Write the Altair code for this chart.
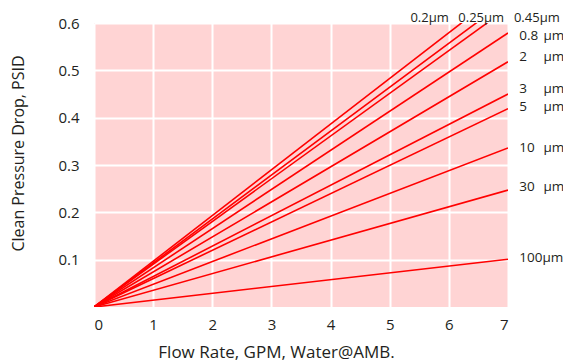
import altair as alt
import pandas as pd

# series and pressure drop (PSID) reached at 7 GPM (lines start at the origin)
series = ["0.2µm", "0.25µm", "0.45µm", "0.8µm", "2µm", "3µm", "5µm", "10µm", "30µm", "100µm"]
flow_start = [0, 0, 0, 0, 0, 0, 0, 0, 0, 0]
flow_end = [7, 7, 7, 7, 7, 7, 7, 7, 7, 7]
dp_end = [0.676, 0.650, 0.632, 0.579, 0.518, 0.450, 0.419, 0.336, 0.247, 0.101]

# top labels (outside the plot, above the lines that leave through the top)
top_labels = ["0.2µm", "0.25µm", "0.45µm"]
top_x = [5.35, 6.16, 7.1]
top_y = [0.611, 0.611, 0.611]

# right-hand labels: number part and unit part
right_num = ["0.8", "2", "3", "5", "10", "30", "100µm"]
right_unit = ["µm", "µm", "µm", "µm", "µm", "µm", ""]
right_y = [0.572, 0.529, 0.461, 0.423, 0.336, 0.254, 0.104]
right_x = 7.19
unit_x = 7.6

x_ticks = [0, 1, 2, 3, 4, 5, 6, 7]
y_ticks = [0.1, 0.2, 0.3, 0.4, 0.5, 0.6]

rows = []
for s, x0, x1, v in zip(series, flow_start, flow_end, dp_end):
    rows.append({"series": s, "flow": x0, "dp": 0.0})
    rows.append({"series": s, "flow": x1, "dp": v})
lines_df = pd.DataFrame(rows)

top_df = pd.DataFrame({"label": top_labels, "x": top_x, "y": top_y})
num_df = pd.DataFrame({"label": right_num, "x": [right_x] * len(right_num), "y": right_y})
unit_df = pd.DataFrame({"label": right_unit, "x": [unit_x] * len(right_unit), "y": right_y})

FONT = "Open Sans"
TXT = "#231F20"

xscale = alt.Scale(domain=[0, 7], nice=False, zero=True)
yscale = alt.Scale(domain=[0, 0.6], nice=False)

lines = alt.Chart(lines_df).mark_line(color="#FF0000", strokeWidth=1.6, clip=True).encode(
    x=alt.X("flow:Q", scale=xscale,
            axis=alt.Axis(values=x_ticks, title="Flow Rate, GPM, Water@AMB.", format="d",
                          grid=True, gridColor="white", gridWidth=2, domain=False, ticks=False,
                          labelPadding=10, labelFontSize=15, labelFont=FONT, labelColor=TXT,
                          titleFont=FONT, titleFontSize=17, titleFontWeight="normal", titleColor=TXT,
                          titleX=182, titleY=45, titleBaseline="middle", titleAlign="center")),
    y=alt.Y("dp:Q", scale=yscale,
            axis=alt.Axis(values=y_ticks, title="Clean Pressure Drop, PSID", format=".1f",
                          grid=True, gridColor="white", gridWidth=2, domain=False, ticks=False,
                          labelPadding=15, labelFontSize=15, labelFont=FONT, labelColor=TXT,
                          titleFont=FONT, titleFontSize=16, titleFontWeight="normal", titleColor=TXT,
                          titleX=-76, titleY=130, titleAngle=270, titleBaseline="middle",
                          titleAlign="center")),
    detail="series:N",
)

def text_layer(df, size=13.5):
    return alt.Chart(df).mark_text(align="left", baseline="middle", font=FONT, fontSize=size,
                                   color=TXT, clip=False).encode(
        x=alt.X("x:Q", scale=xscale), y=alt.Y("y:Q", scale=yscale), text="label:N")

chart = alt.layer(lines, text_layer(top_df, 13), text_layer(num_df), text_layer(unit_df)).properties(
    width=414, height=284,
    autosize=alt.AutoSizeParams(type="none"),
    padding={"left": 86, "top": 15, "right": 55, "bottom": 60},
    background="white",
).configure_view(fill="#FFD4D4", stroke=None)

chart.save("out.html", embed_options={"renderer": "svg", "actions": False})
